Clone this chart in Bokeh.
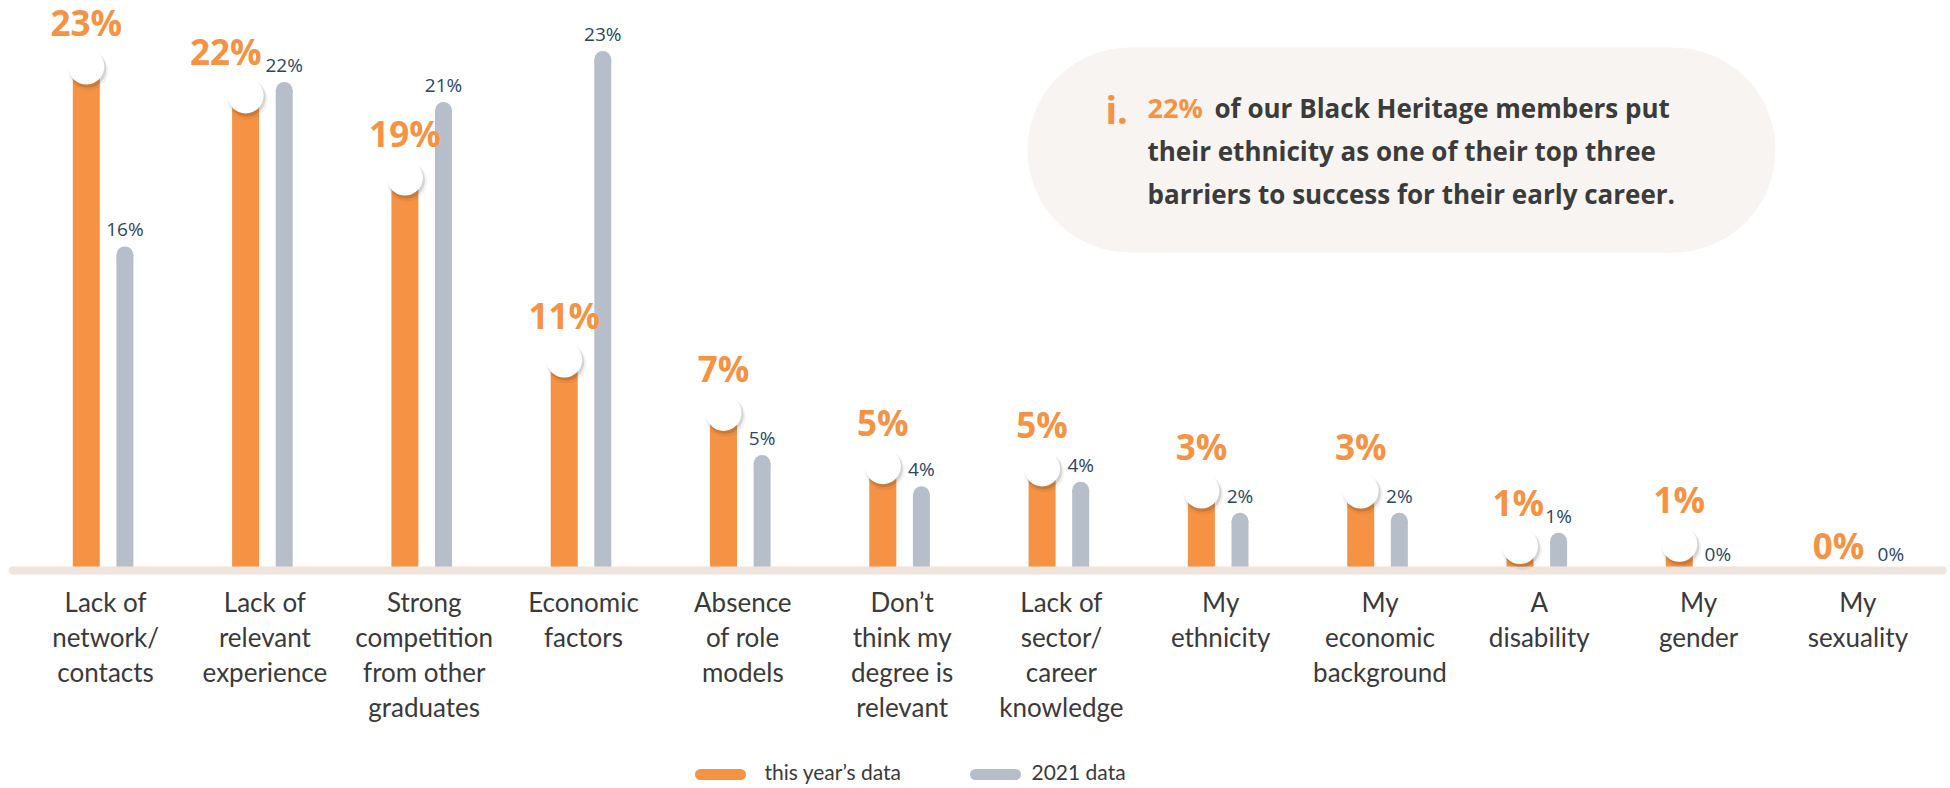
from bokeh.plotting import figure
from bokeh.models import Range1d
from bokeh.core.properties import value
from bokeh.embed import file_html
from bokeh.resources import INLINE

# ---------------- data ----------------
categories = [
    ["Lack of", "network/", "contacts"],
    ["Lack of", "relevant", "experience"],
    ["Strong", "competition", "from other", "graduates"],
    ["Economic", "factors"],
    ["Absence", "of role", "models"],
    ["Don\u2019t", "think my", "degree is", "relevant"],
    ["Lack of", "sector/", "career", "knowledge"],
    ["My", "ethnicity"],
    ["My", "economic", "background"],
    ["A", "disability"],
    ["My", "gender"],
    ["My", "sexuality"],
]
# labelled percentages
this_year_pct = [23, 22, 19, 11, 7, 5, 5, 3, 3, 1, 1, 0]
data2021_pct = [16, 22, 21, 23, 5, 4, 4, 2, 2, 1, 0, 0]
# bar heights as drawn in the picture (percent units)
this_year_bar = [22.7, 21.4, 17.7, 9.5, 7.1, 4.7, 4.6, 3.6, 3.6, 1.1, 1.2, 0.0]
data2021_bar = [14.6, 22.0, 21.1, 23.4, 5.2, 3.8, 4.0, 2.6, 2.6, 1.7, 0.0, 0.0]

legend_labels = ["this year\u2019s data", "2021 data"]
note_highlight = "22%"
note_lines = [
    "of our Black Heritage members put",
    "their ethnicity as one of their top three",
    "barriers to success for their early career.",
]

# ---------------- layout helpers ----------------
W, H = 1950, 788
PXX = 159.3      # px per category
X0 = 105.1       # px of first category centre
PXY = 22.2       # px per percent
Y0 = 570.0       # px (from top) of the baseline


def X(px):
    return (px - X0) / PXX


def Y(py):
    return (Y0 - py) / PXY


def dx(px):
    return px / PXX


def dy(px):
    return px / PXY


ORANGE = "#F59244"
GREY = "#B6BFC9"
GREY_TXT = "#2C4663"
BASE = "#EFE4DE"
BOX = "#F8F4F1"
TXT = "#3B3B3B"

p = figure(width=W, height=H, x_range=Range1d(X(0), X(W)), y_range=Range1d(Y(H), Y(0)),
           toolbar_location=None, output_backend="svg", x_axis_type=None, y_axis_type=None,
           min_border=0, background_fill_color="white", border_fill_color="white")
p.outline_line_color = None
p.grid.visible = False

n = len(categories)
idx = list(range(n))
off = dx(19.3)
xo = [i - off for i in idx]
xg = [i + off for i in idx]

# ---- info box (stadium) ----
bl, br, bt, bb = 1027, 1775, 47, 252
bh = bb - bt
p.rect(x=[X((bl + br) / 2)], y=[Y((bt + bb) / 2)], width=dx(br - bl - bh), height=dy(bh),
       fill_color=BOX, line_color=None)
p.scatter(x=[X(bl + bh / 2), X(br - bh / 2)], y=[Y((bt + bb) / 2)] * 2, size=bh,
          fill_color=BOX, line_color=None)
p.text(x=[X(1105)], y=[Y(108)], text=["i."], text_font=value("Open Sans"), text_font_size="38px",
       text_font_style="bold", text_color=ORANGE, text_align="left", text_baseline="alphabetic")
p.text(x=[X(1147)], y=[Y(107)], text=[note_highlight], text_font=value("Open Sans"),
       text_font_size="27px", text_font_style="bold", text_color=ORANGE, text_align="left",
       text_baseline="alphabetic")
p.text(x=[X(1214), X(1147), X(1147)], y=[Y(107), Y(150), Y(193)], text=note_lines,
       text_font=value("Open Sans"), text_font_size="26px", text_font_style="bold",
       text_color=TXT, text_align="left", text_baseline="alphabetic")

# ---- bars ----
o_idx = [i for i in idx if this_year_bar[i] > 0]
p.vbar(x=[xo[i] for i in o_idx], top=[this_year_bar[i] for i in o_idx], bottom=0,
       width=dx(27), fill_color=ORANGE, line_color=None)

r = dy(8.5)
g_idx = [i for i in idx if data2021_bar[i] > 0]
p.vbar(x=[xg[i] for i in g_idx], top=[data2021_bar[i] - r for i in g_idx], bottom=0,
       width=dx(17), fill_color=GREY, line_color=None)
p.scatter(x=[xg[i] for i in g_idx], y=[data2021_bar[i] - r for i in g_idx], size=17,
          fill_color=GREY, line_color=None)

# ---- baseline ----
p.line(x=[X(12), X(1942)], y=[0, 0], line_width=8, line_color=BASE, line_cap="round")

# ---- white markers with shadow ----
p.scatter(x=[xo[i] + dx(2) for i in o_idx], y=[this_year_bar[i] - dy(4) for i in o_idx], size=40,
          fill_color="#000000", fill_alpha=0.05, line_color=None)
p.scatter(x=[xo[i] + dx(1.5) for i in o_idx], y=[this_year_bar[i] - dy(2.5) for i in o_idx], size=37,
          fill_color="#000000", fill_alpha=0.12, line_color=None)
p.scatter(x=[xo[i] for i in o_idx], y=[this_year_bar[i] for i in o_idx], size=36,
          fill_color="white", line_color=None)

# ---- value labels ----
o_txt = [f"{v}%" for v in this_year_pct]
g_txt = [f"{v}%" for v in data2021_pct]
o_y = [this_year_bar[i] + (dy(44) if this_year_bar[i] > 0 else dy(25)) for i in idx]
g_y = [data2021_bar[i] + dy(17) for i in idx]
o_x, g_x = [], []
for i in idx:
    wo = len(o_txt[i]) * 0.66 * 35
    wg = len(g_txt[i]) * 0.66 * 20
    overlap = (-19.3 + wo / 2 + 4) - (19.3 - wg / 2)
    so, sg = 0.0, 0.0
    if abs(o_y[i] - g_y[i]) < dy(25) and overlap > 0:
        if this_year_bar[i] > 0:
            so = overlap
        else:
            sg = overlap + 12
    o_x.append(xo[i] - dx(so))
    g_x.append(xg[i] + dx(sg))

p.text(x=o_x, y=o_y, text=o_txt, text_font=value("Open Sans"), text_font_size="35px",
       text_font_style="bold", text_color=ORANGE, text_align="center", text_baseline="alphabetic")
p.text(x=g_x, y=g_y, text=g_txt, text_font=value("Open Sans"), text_font_size="19px",
       text_color=GREY_TXT, text_align="center", text_baseline="alphabetic")

# ---- category labels ----
lx, ly, lt = [], [], []
for i, lines in enumerate(categories):
    for j, t in enumerate(lines):
        lx.append(i)
        ly.append(Y(601 + 35 * j))
        lt.append(t)
p.text(x=lx, y=ly, text=lt, text_font=value("Lato"), text_font_size="26px", text_color="#3A3A3A",
       text_align="center", text_baseline="alphabetic")

# ---- legend ----
p.line(x=[X(700), X(740)], y=[Y(774)] * 2, line_width=11, line_color=ORANGE, line_cap="round")
p.line(x=[X(975), X(1015)], y=[Y(774)] * 2, line_width=11, line_color=GREY, line_cap="round")
p.text(x=[X(764), X(1031)], y=[Y(771)] * 2, text=legend_labels, text_font=value("Lato"),
       text_font_size="21px", text_color="#3A3A3A", text_align="left", text_baseline="middle")

open("out.html", "w").write(file_html(p, INLINE))
